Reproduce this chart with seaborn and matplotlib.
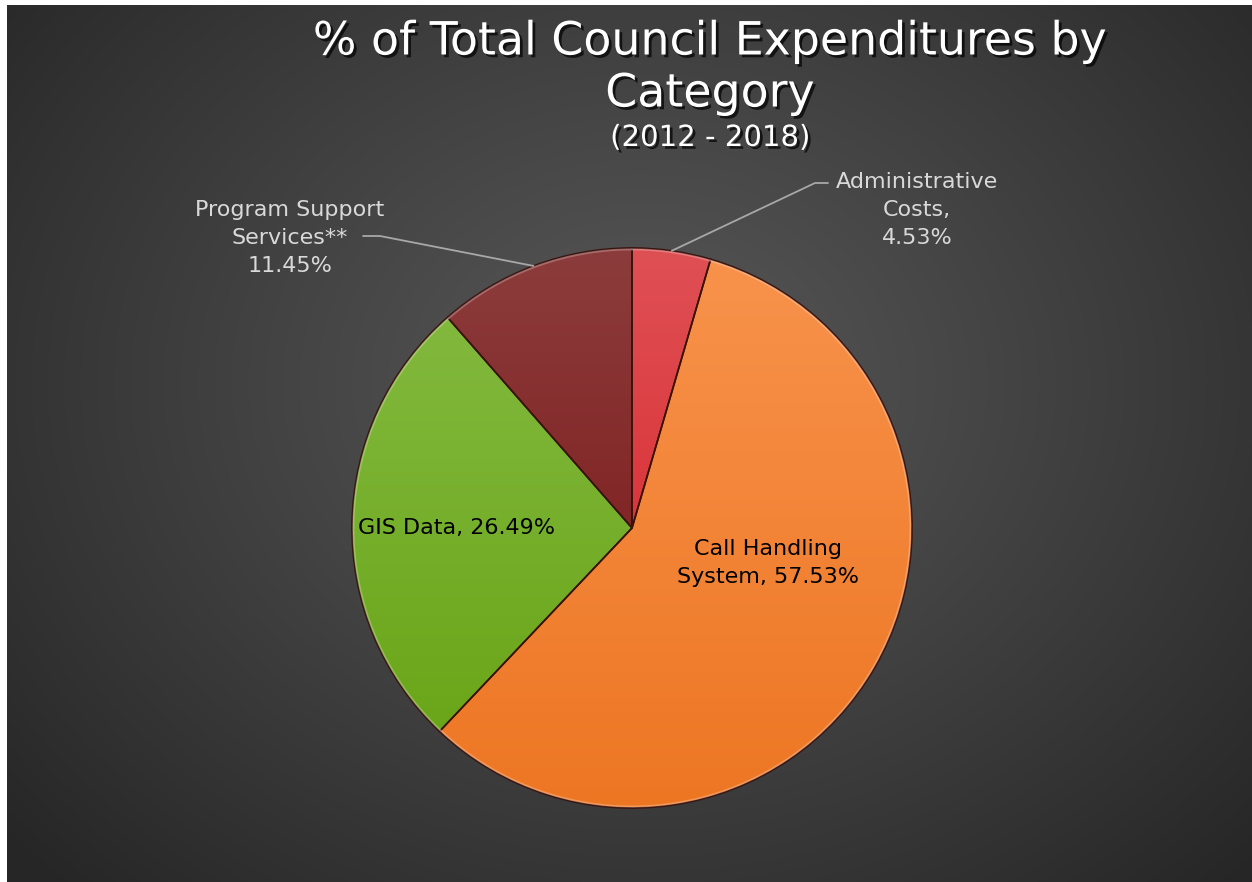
import numpy as np
import matplotlib
matplotlib.use("Agg")
import matplotlib.pyplot as plt
import matplotlib.patheffects as pe
import seaborn as sns

# data
categories = ["Administrative\nCosts,", "Call Handling\nSystem,", "GIS Data,", "Program Support\nServices**"]
shares = [4.53, 57.53, 26.49, 11.45]
top_colors = ["#df5055", "#f8934c", "#86bc44", "#8c3c3c"]
bottom_colors = ["#d51b1f", "#ed7623", "#66a212", "#780f10"]
title_lines = ["% of Total Council Expenditures by", "Category", "(2012 - 2018)"]

W, H = 1252, 882
CX, CY, R = 632, 528, 280  # pie centre / radius in pixels

sns.set_theme(style="white")
plt.rcParams["font.family"] = ["DejaVu Sans"]

fig = plt.figure(figsize=(W / 100, H / 100), dpi=100)
fig.patch.set_facecolor("white")

# dark radial background (small white margin at top / left like the slide)
bg = fig.add_axes([7 / W, 0, 1 - 7 / W, 1 - 5 / H])
yy, xx = np.mgrid[0:H, 0:W]
d = np.sqrt(((xx - 640) / 1.1) ** 2 + ((yy - 380) / 0.9) ** 2) / 780
d = np.clip(d, 0, 1)
inner = np.array([0x57, 0x57, 0x57]) / 255
outer = np.array([0x26, 0x26, 0x26]) / 255
img = inner + (outer - inner) * d[..., None] ** 1.1
bg.imshow(img, aspect="auto", extent=(0, W, H, 0))
bg.set_axis_off()

# pie axes covering the whole figure, one unit = pie radius
ax = fig.add_axes([0, 0, 1, 1])
ax.patch.set_alpha(0)
wedges, _ = ax.pie(shares, startangle=90, counterclock=False, radius=1,
                   colors=top_colors,
                   wedgeprops=dict(edgecolor="#3a120c", linewidth=1.2))
ax.set_xlim(-CX / R, (W - CX) / R)
ax.set_ylim(-(H - CY) / R, CY / R)
ax.set_aspect("auto")
ax.set_axis_off()

# vertical gradient inside every wedge
for w, c0, c1 in zip(wedges, top_colors, bottom_colors):
    c0 = np.array(matplotlib.colors.to_rgb(c0))
    c1 = np.array(matplotlib.colors.to_rgb(c1))
    t = np.linspace(0, 1, 256)[:, None, None]
    grad = c0 + (c1 - c0) * t
    grad = np.repeat(grad, 2, axis=1)
    im = ax.imshow(grad, extent=(-1, 1, -1, 1), aspect="auto", zorder=1.5,
                   interpolation="bilinear")
    im.set_clip_path(w)
    w.set_zorder(2)
    w.set_facecolor("none")

# light rim on the outer edge
for w in wedges:
    th = np.radians(np.linspace(w.theta1, w.theta2, 100))
    ax.plot(0.995 * np.cos(th), 0.995 * np.sin(th), color="white", alpha=0.25,
            lw=1.5, zorder=3)

def mid_point(w, r=1.0):
    a = np.radians((w.theta1 + w.theta2) / 2)
    return r * np.cos(a), r * np.sin(a)

def px(x, y):
    return (x - CX) / R, (CY - y) / R

label_color = "#d9d9d9"
line_color = "#a8a8a8"
fs = 16
ls = 1.5

# Administrative costs - outside, leader line to the right
ax.text(*px(917, 210), categories[0] + f"\n{shares[0]:.2f}%", ha="center", va="center",
        color=label_color, fontsize=fs, linespacing=ls, zorder=5)
ex, ey = mid_point(wedges[0])
kx, ky = px(815, 183)
ex2, _ = px(828, 183)
ax.plot([ex, kx, ex2], [ey, ky, ky], color=line_color, lw=1.3, zorder=4)

# Program support - outside, leader line to the left
ax.text(*px(290, 238), categories[3] + f"\n{shares[3]:.2f}%", ha="center", va="center",
        color=label_color, fontsize=fs, linespacing=ls, zorder=5)
ex, ey = mid_point(wedges[3])
kx, ky = px(380, 236)
ex2, _ = px(363, 236)
ax.plot([ex, kx, ex2], [ey, ky, ky], color=line_color, lw=1.3, zorder=4)

# inside labels
ax.text(*px(457, 528), f"{categories[2]} {shares[2]:.2f}%", ha="center", va="center",
        color="black", fontsize=fs, zorder=5)
ax.text(*px(768, 563), categories[1] + f" {shares[1]:.2f}%", ha="center", va="center",
        color="black", fontsize=fs, linespacing=ls, zorder=5)

# title
shadow = [pe.withSimplePatchShadow(offset=(2, -2), shadow_rgbFace="black", alpha=0.7)]
fig.text(710 / W, 1 - 42 / H, title_lines[0], ha="center", va="center", color="white",
         fontsize=33, path_effects=shadow)
fig.text(710 / W, 1 - 94 / H, title_lines[1], ha="center", va="center", color="white",
         fontsize=33, path_effects=shadow)
fig.text(710 / W, 1 - 138 / H, title_lines[2], ha="center", va="center", color="white",
         fontsize=21, path_effects=shadow)

fig.savefig("out.png", dpi=100, facecolor=fig.get_facecolor())
